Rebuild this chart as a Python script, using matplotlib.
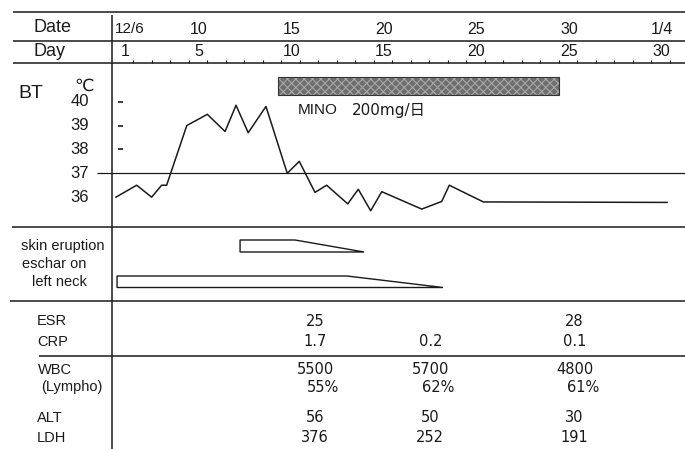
import matplotlib
matplotlib.use('Agg')
import matplotlib.pyplot as plt
from matplotlib.patches import Polygon, Rectangle

# ---------------- data ----------------
date_labels = ['12/6', '10', '15', '20', '25', '30', '1/4']
date_days = [1, 5, 10, 15, 20, 25, 30]
day_labels = ['1', '5', '10', '15', '20', '25', '30']
day_days = [1, 5, 10, 15, 20, 25, 30]

bt_days = [0.51, 1.63, 2.44, 2.98, 3.25, 4.34, 5.45, 6.41, 7.0, 7.66, 8.62,
           9.77, 10.42, 11.27, 11.9, 13.04, 13.61, 14.28, 14.88, 17.04,
           18.12, 18.53, 20.37, 30.3]
bt_temps = [36.0, 36.5, 36.0, 36.5, 36.5, 39.0, 39.47, 38.75, 39.85, 38.7,
            39.8, 37.0, 37.5, 36.2, 36.5, 35.72, 36.33, 35.43, 36.23, 35.5,
            35.82, 36.5, 35.8, 35.78]
bt_ticks = [36, 37, 38, 39, 40]
bt_dash_ticks = [38, 39, 40]

mino_start, mino_end = 9.27, 24.46
mino_name = 'MINO'
mino_dose = '200mg/日'

skin_eruption = (7.22, 10.19, 13.92)   # start, taper start, end
eschar = (0.57, 13.0, 18.19)

lab_days = [11.27, 17.5, 25.3]
esr = ['25', '', '28']
crp = ['1.7', '0.2', '0.1']
wbc = ['5500', '5700', '4800']
lympho = ['55%', '62%', '61%']
alt = ['56', '50', '30']
ldh = ['376', '252', '191']

# ---------------- layout helpers ----------------
W, H = 685, 449
DAY1_PX, PX_PER_DAY = 125.0, 18.5


def d(px):
    return 1 + (px - DAY1_PX) / PX_PER_DAY


INK = '#1a1a1a'
SANS = ['Liberation Sans', 'DejaVu Sans', 'Noto Sans CJK JP']
WIDE = ['DejaVu Sans', 'Noto Sans CJK JP']

plt.rcParams['font.family'] = SANS
plt.rcParams['hatch.linewidth'] = 0.8

fig = plt.figure(figsize=(W / 100, H / 100), dpi=100)
fig.patch.set_facecolor('white')
ax = fig.add_axes([0, 0, 1, 1])
ax.set_xlim(d(0), d(W))
ax.set_ylim(H, 0)
ax.axis('off')

# table frame lines
LW = 1.1
ax.hlines(12, d(13), d(W), color=INK, lw=LW)
ax.hlines(41, d(13), d(W), color=INK, lw=LW)
ax.hlines(63, d(13), d(W), color=INK, lw=LW)
ax.hlines(227, d(12), d(W), color=INK, lw=LW)
ax.hlines(301, d(10), d(W), color=INK, lw=LW)
ax.hlines(356, d(39), d(W), color=INK, lw=LW)
ax.vlines(d(112), 15, H, color=INK, lw=LW)

# header
ax.text(d(33), 27, 'Date', fontsize=13, ha='left', va='center', color=INK)
ax.text(d(33), 51, 'Day', fontsize=13, ha='left', va='center', color=INK)
for lab, dd in zip(date_labels, date_days):
    if lab == '12/6':
        ax.text(d(115), 29, lab, fontsize=11, ha='left', va='center', color=INK)
    else:
        ax.text(dd, 29, lab, fontsize=11.5, ha='center', va='center', color=INK)
for lab, dd in zip(day_labels, day_days):
    ax.text(dd, 52, lab, fontsize=11.5, ha='center', va='center', color=INK)
ax.vlines([k + 0.45 for k in range(1, 31)], 60, 63, color=INK, lw=0.8)

# BT section
ax.text(d(18), 94, 'BT', fontsize=14, ha='left', va='center', color=INK)
ax.text(d(84), 86, '℃', fontsize=12.5, ha='center', va='center', color=INK,
        family=['DejaVu Sans'])

ax_bt = fig.add_axes([0, 1 - 227 / H, 1, (227 - 63) / H])
ax_bt.set_xlim(d(0), d(W))
ax_bt.set_ylim(34.75, 41.62)
ax_bt.axis('off')
ax_bt.patch.set_alpha(0)
for t in bt_ticks:
    ax_bt.text(d(89), t, str(t), fontsize=12, ha='right', va='center', color=INK)
ax_bt.hlines(bt_dash_ticks, d(118), d(123), color=INK, lw=1.2)
ax_bt.hlines(37, d(97), d(W), color=INK, lw=0.9)
ax_bt.plot(bt_days, bt_temps, color=INK, lw=1.1)

# MINO bar
ax.add_patch(Rectangle((mino_start, 77), mino_end - mino_start, 18,
                       facecolor='#6e6e6e', edgecolor='#a8a8a8',
                       hatch='xxxx', lw=0.0))
ax.add_patch(Rectangle((mino_start, 77), mino_end - mino_start, 18,
                       fill=False, edgecolor='#333333', lw=0.8))
ax.text(d(298), 110, mino_name, fontsize=11, ha='left', va='center', color=INK)
ax.text(d(352), 110, mino_dose, fontsize=11, ha='left', va='center', color=INK,
        family=WIDE)

# skin findings
s, p, e = skin_eruption
ax.add_patch(Polygon([(s, 240), (p, 240), (e, 252), (s, 252)], closed=True,
                     fill=False, edgecolor=INK, lw=1.0))
s, p, e = eschar
ax.add_patch(Polygon([(s, 276), (p, 276), (e, 287.5), (s, 287.5)], closed=True,
                     fill=False, edgecolor=INK, lw=1.0))
ax.text(d(21), 246, 'skin eruption', fontsize=10.5, ha='left', va='center', color=INK)
ax.text(d(22), 264, 'eschar on', fontsize=10.5, ha='left', va='center', color=INK)
ax.text(d(32), 282, 'left neck', fontsize=10.5, ha='left', va='center', color=INK)

# lab section
lab_rows = [('ESR', 321, esr, 37, 0.0),
            ('CRP', 342, crp, 37, 0.0),
            ('WBC', 370, wbc, 38, 0.0),
            ('(Lympho)', 387, lympho, 41, 0.45),
            ('ALT', 418, alt, 37, 0.0),
            ('LDH', 438, ldh, 37, 0.0)]
for name, y, vals, xl, off in lab_rows:
    ax.text(d(xl), y, name, fontsize=10.5, ha='left', va='center', color=INK)
    for dd, v in zip(lab_days, vals):
        if v:
            ax.text(dd + off, y, v, fontsize=10.5, ha='center', va='center',
                    color=INK, family=WIDE)

fig.savefig('out.png', dpi=100, facecolor='white')
